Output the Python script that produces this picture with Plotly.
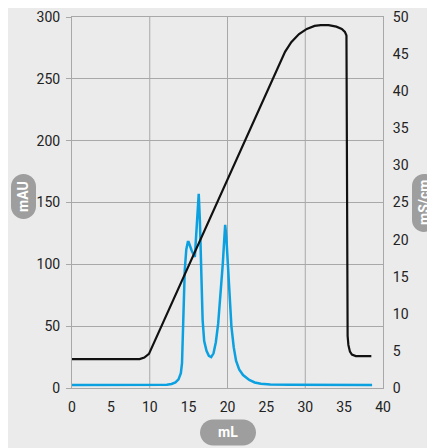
import plotly.graph_objects as go

# UV absorbance (mAU) vs volume (mL)
uv_ml = [0, 11.5, 12.2, 12.8, 13.3, 13.7, 14.0, 14.15, 14.3, 14.5, 14.7, 14.9, 15.0,
         15.4, 15.8, 16.0, 16.3, 16.45, 16.6, 16.8, 17.0, 17.3, 17.6, 17.9, 18.2,
         18.5, 18.8, 19.1, 19.4, 19.6, 19.7, 19.85, 20.0, 20.2, 20.5, 20.8, 21.1,
         21.5, 22.0, 22.8, 23.5, 24.3, 25.5, 28.0, 38.6]
uv_mau = [2.5, 2.5, 2.7, 3.3, 4.5, 7, 12, 20, 55, 95, 112, 118, 118,
          111, 106, 125, 157, 135, 95, 55, 38, 30, 26, 25, 28,
          37, 52, 75, 101, 122, 132, 122, 106, 75, 50, 33, 22,
          15, 10.5, 6.5, 4.5, 3.4, 2.8, 2.6, 2.5]

# Conductivity (mS/cm) vs volume (mL)
cond_ml = [0, 8.7, 9.3, 9.9, 27.4, 28.2, 29.2, 30.2, 31.2, 32.0, 33.0, 34.0, 34.7,
           35.1, 35.3, 35.4, 35.45, 35.55, 35.75, 36.0, 36.5, 38.5]
cond_ms = [3.9, 3.9, 4.1, 4.6, 45.3, 46.6, 47.7, 48.4, 48.8, 48.9, 48.9, 48.7, 48.4,
           48.0, 47.5, 20.0, 7.0, 5.8, 4.9, 4.5, 4.3, 4.3]

x_ticks = [0, 5, 10, 15, 20, 25, 30, 35, 40]
grid_x = [10, 20, 30]
y_ticks = [0, 50, 100, 150, 200, 250, 300]
y2_ticks = [0, 5, 10, 15, 20, 25, 30, 35, 40, 45, 50]

# page has an 8px body margin: size the figure so it ends at the window edge
OFF = 8
W, H = 435 - OFF, 448 - OFF
PLOT_L, PLOT_R, PLOT_T, PLOT_B = 72, 383, 16.7, 388.5   # page pixels
ML, MR = PLOT_L - OFF, W - (PLOT_R - OFF)
MT, MB = PLOT_T - OFF, H - (PLOT_B - OFF)
PW, PH = W - ML - MR, H - MT - MB

GRID = "#a8a8a8"
BG = "#ebebeb"
PILL = "#9e9e9e"

fig = go.Figure()
fig.add_trace(go.Scatter(x=uv_ml, y=uv_mau, mode="lines",
                         line=dict(color="#0ba0df", width=2.5), yaxis="y",
                         showlegend=False))
fig.add_trace(go.Scatter(x=cond_ml, y=cond_ms, mode="lines",
                         line=dict(color="#111111", width=2.2), yaxis="y2",
                         showlegend=False))

shapes = []
for gx in grid_x:
    shapes.append(dict(type="line", xref="x", yref="paper", x0=gx, x1=gx, y0=0, y1=1,
                       line=dict(color=GRID, width=1), layer="below"))


def pill_path(w, h):
    a, b = w / 2, h / 2
    r = min(w, h) / 2
    k = 0.5523 * r
    p = [f"M {-a + r},{-b}", f"L {a - r},{-b}",
         f"C {a - r + k},{-b} {a},{-b + r - k} {a},{-b + r}",
         f"L {a},{b - r}",
         f"C {a},{b - r + k} {a - r + k},{b} {a - r},{b}",
         f"L {-a + r},{b}",
         f"C {-a + r - k},{b} {-a},{b - r + k} {-a},{b - r}",
         f"L {-a},{-b + r}",
         f"C {-a},{-b + r - k} {-a + r - k},{-b} {-a + r},{-b}", "Z"]
    return " ".join(p)


def px2paper(px, py):
    # page pixel -> paper coordinates
    return (px - PLOT_L) / PW, (PLOT_B - py) / PH


pills = [
    ("mAU", 23.5, 196.5, 25, 45, -90, 14),
    ("mS/cm", 424, 203, 24, 58, -90, 14),
    ("mL", 228, 433, 56, 26, 0, 14),
]
annotations = []
for text, cx, cy, w, h, ang, fs in pills:
    xa, ya = px2paper(cx, cy)
    shapes.append(dict(type="path", xref="paper", yref="paper",
                       xsizemode="pixel", ysizemode="pixel",
                       xanchor=xa, yanchor=ya, path=pill_path(w, h),
                       fillcolor=PILL, line=dict(width=0), layer="above"))
    annotations.append(dict(text=text, x=xa, y=ya, xref="paper", yref="paper",
                            showarrow=False, textangle=ang,
                            xanchor="center", yanchor="middle",
                            font=dict(family="Roboto", size=fs, color="white",
                                      weight="bold")))

fig.update_layout(
    width=W, height=H,
    margin=dict(l=ML, r=MR, t=MT, b=MB, pad=0, autoexpand=False),
    paper_bgcolor=BG, plot_bgcolor=BG,
    font=dict(family="Roboto", size=14, color="#222222"),
    xaxis=dict(range=[0, 40], tickvals=x_ticks, showgrid=False, zeroline=False,
               showline=True, linecolor=GRID, linewidth=1, mirror=True,
               ticks="", ticklabelstandoff=6, automargin=False),
    yaxis=dict(range=[0, 300], tickvals=y_ticks, showgrid=True, gridcolor=GRID,
               gridwidth=1, zeroline=False, showline=True, linecolor=GRID,
               ticks="outside", ticklen=5, tickcolor=GRID, ticklabelstandoff=3,
               automargin=False),
    yaxis2=dict(range=[0, 50], tickvals=y2_ticks, overlaying="y", side="right",
                showgrid=False, zeroline=False, showline=True, linecolor=GRID,
                ticks="", ticklabelstandoff=6, automargin=False),
    shapes=shapes,
    annotations=annotations,
)

fig.write_html("out.html")
